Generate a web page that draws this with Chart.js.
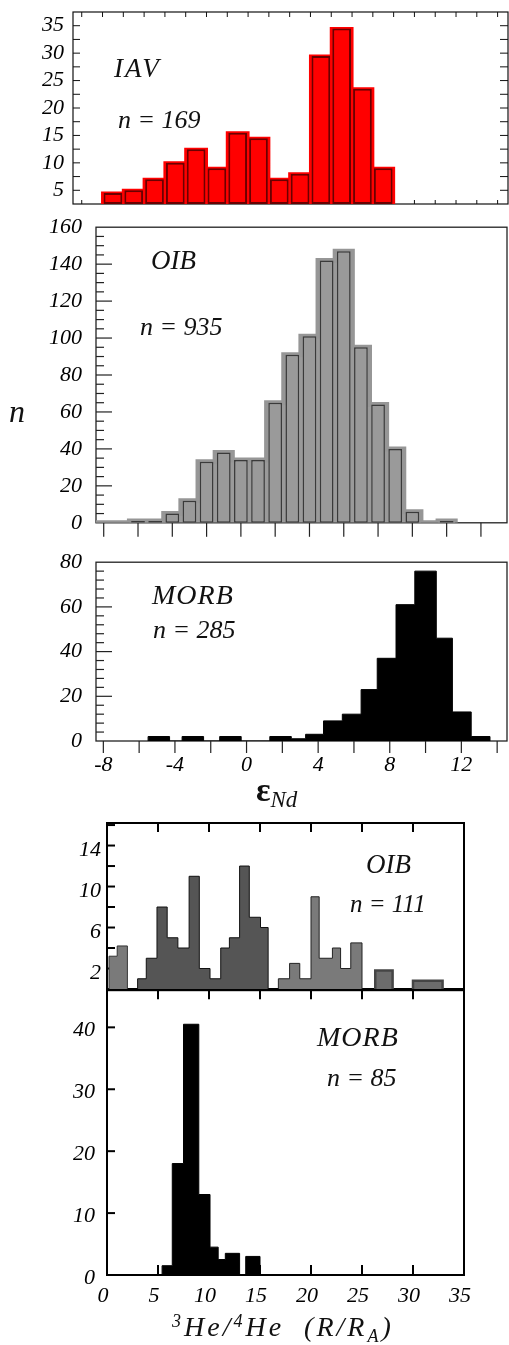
<!DOCTYPE html>
<html>
<head>
<meta charset="utf-8">
<script src="https://cdn.jsdelivr.net/npm/chart.js@4.4.1/dist/chart.umd.min.js"></script>
<style>
  body { margin: 0; background: #fff; }
  #fig { position: relative; width: 509px; height: 1345px; overflow: hidden; background: #fff;
         font-family: "Liberation Serif", serif; font-style: italic; color: #111; }
  #fig canvas { position: absolute; left: 0; }
  .lbl { position: absolute; white-space: nowrap; line-height: 1; }
</style>
</head>
<body>
<div id="fig">
  <canvas id="cvIav"></canvas>
  <canvas id="cvOibNd"></canvas>
  <canvas id="cvMorbNd"></canvas>
  <canvas id="cvOibHe"></canvas>
  <canvas id="cvMorbHe"></canvas>

  <div class="lbl" style="left:114px; top:55px; font-size:27px; letter-spacing:2px">IAV</div>
  <div class="lbl" style="left:118px; top:107px; font-size:26px">n = 169</div>

  <div class="lbl" style="left:151px; top:247px; font-size:27px">OIB</div>
  <div class="lbl" style="left:140px; top:314px; font-size:26px">n = 935</div>
  <div class="lbl" style="left:9px; top:395px; font-size:32px">n</div>

  <div class="lbl" style="left:152px; top:581px; font-size:28px; letter-spacing:1px">MORB</div>
  <div class="lbl" style="left:153px; top:617px; font-size:26px">n = 285</div>

  <div class="lbl" style="left:256px; top:773px; font-size:34px; font-style:normal; font-weight:bold">ε<span style="position:relative; top:6px; font-size:23px; font-style:italic; font-weight:normal">Nd</span></div>

  <div class="lbl" style="left:366px; top:851px; font-size:27px">OIB</div>
  <div class="lbl" style="left:350px; top:891px; font-size:25px">n = 111</div>

  <div class="lbl" style="left:317px; top:1023px; font-size:28px; letter-spacing:1px">MORB</div>
  <div class="lbl" style="left:327px; top:1065px; font-size:26px">n = 85</div>

  <div class="lbl" style="left:172px; top:1313px; font-size:28px; letter-spacing:3px"><span style="position:relative; top:-9px; font-size:18px">3</span>He/<span style="position:relative; top:-9px; font-size:18px">4</span>He&nbsp;&nbsp;(R/R<span style="position:relative; top:6px; font-size:18px">A</span>)</div>
</div>

<script>
// εNd, island arc volcanics (panel uses its own bin index axis)
const iavBins   = [1.5, 2.5, 3.5, 4.5, 5.5, 6.5, 7.5, 8.5, 9.5, 10.5, 11.5, 12.5, 13.5, 14.5];
const iavCounts = [4.5, 5, 7, 10, 12.5, 9, 15.5, 14.5, 7, 8, 29.5, 34.5, 23.5, 9];

// εNd, ocean island basalts (1-unit bins, centred)
const oibNdBins   = [-8, -7, -6, -5, -4, -3, -2, -1, 0, 1, 2, 3, 4, 5, 6, 7, 8, 9, 10, 11, 12];
const oibNdCounts = [0, 0, 1, 1, 5, 12, 33, 38, 34, 34, 65, 91, 101, 142, 147, 95, 64, 40, 6, 0, 1];

// εNd, MORB (bin edges as drawn)
const morbNdEdges  = [-5.5, -4.3, -3.6, -2.4, -1.5, -0.3, 1.3, 2.5, 3.3, 4.3, 5.35, 6.4, 7.3, 8.35, 9.4, 10.6, 11.5, 12.55, 13.6];
const morbNdCounts = [2, 0, 2, 0, 2, 0, 2, 1, 3, 9, 12, 23, 37, 61, 76, 46, 13, 2];

// 3He/4He, OIB groups
const heOibEdgesA  = [0.2, 1, 2];
const heOibCountsA = [3.2, 4.2];
const heOibEdgesB  = [3, 3.85, 4.9, 5.9, 6.95, 8.05, 9.05, 10.1, 11.15, 12, 13, 13.95, 15.05, 15.8];
const heOibCountsB = [1, 3, 8, 5, 4, 11, 2, 1, 4, 5, 12, 7, 6];
const heOibEdgesC  = [16.8, 17.9, 18.9, 20, 20.8, 22.1, 22.9, 23.9, 25];
const heOibCountsC = [1, 2.5, 1, 9, 3, 4, 2, 4.5];
const heOibEdgesD  = [26.3, 28];
const heOibCountsD = [1.8];
const heOibEdgesE  = [30, 32.9];
const heOibCountsE = [0.8];

// 3He/4He, MORB
const heMorbEdges  = [5.4, 6.4, 7.5, 9.0, 10.1, 10.9, 11.6, 13.0, 13.6, 15.0];
const heMorbCounts = [1.5, 18, 40.5, 13, 4.5, 2.5, 3.5, 0, 3];

const W = 540;
const tickFont = { family: "'Liberation Serif', serif", size: 22, style: 'italic' };

Chart.defaults.font.family = tickFont.family;
Chart.defaults.font.size = tickFont.size;
Chart.defaults.font.style = tickFont.style;
Chart.defaults.color = '#000';
Chart.defaults.animation = false;
Chart.defaults.events = [];
Chart.defaults.plugins.legend.display = false;
Chart.defaults.plugins.tooltip.enabled = false;

// histogram outline as a stepped path: (left edge, count) ... then back to 0
function steps(edges, counts) {
  const pts = [{ x: edges[0], y: 0 }];
  counts.forEach((c, i) => pts.push({ x: edges[i], y: c }));
  pts.push({ x: edges[edges.length - 1], y: 0 });
  return pts;
}
function binEdges(bins) {
  return bins.map(b => b - 0.5).concat(bins[bins.length - 1] + 0.5);
}
function bars(bins, counts) {
  return bins.map((x, i) => ({ x, y: counts[i] || null }));
}
function stepSet(pts, fill, line, width) {
  // 'before' keeps each count flat until the next edge
  return { type: 'line', data: pts, stepped: 'before', fill: 'origin', backgroundColor: fill,
           borderColor: line, borderWidth: width, pointRadius: 0, order: 2 };
}

// box frame + tick marks (positive len = into the plot)
const frame = {
  id: 'frame',
  beforeDatasetsDraw(chart, args, o) {
    const { ctx, chartArea: a, scales } = chart;
    ctx.save();
    ctx.strokeStyle = o.color;
    ctx.lineWidth = o.width;
    ctx.strokeRect(a.left, a.top, a.right - a.left, a.bottom - a.top);
    ctx.lineWidth = o.tickWidth;
    (o.marks || []).forEach(m => {
      const s = scales[m.axis];
      s.ticks.forEach(t => {
        const p = s.getPixelForValue(t.value);
        const len = m.major && m.major(t.value) ? m.majorLen : m.len;
        const vert = m.side === 'left' || m.side === 'right';
        if (vert && (p < a.top + 1.5 || p > a.bottom - 1.5)) return;
        if (!vert && (p < a.left + 1.5 || p > a.right - 1.5)) return;
        ctx.beginPath();
        if (m.side === 'left')   { ctx.moveTo(a.left, p);   ctx.lineTo(a.left + len, p); }
        if (m.side === 'right')  { ctx.moveTo(a.right, p);  ctx.lineTo(a.right - len, p); }
        if (m.side === 'top')    { ctx.moveTo(p, a.top);    ctx.lineTo(p, a.top + len); }
        if (m.side === 'bottom') { ctx.moveTo(p, a.bottom); ctx.lineTo(p, a.bottom - len); }
        ctx.stroke();
      });
    });
    ctx.restore();
  }
};

function axis(min, max, step, extra) {
  return Object.assign({
    type: 'linear', min, max, offset: false,
    grid: { display: false, drawTicks: false, offset: false },
    border: { display: false }
  }, extra, {
    ticks: Object.assign({ stepSize: step, includeBounds: false, autoSkip: false, maxTicksLimit: 200,
                           maxRotation: 0, font: tickFont, color: '#000' },
                         extra && extra.ticks)
  });
}

// canvas spans the full width; the y scale takes everything left of the box,
// the x scale everything below it, so the plot box lands at `area`
function panel(id, top, height, area, cfg) {
  const cv = document.getElementById(id);
  cv.width = W;
  cv.height = height;
  cv.style.top = top + 'px';
  const below = top + height - area.b;
  cfg.options.responsive = false;
  cfg.options.layout = { padding: { left: 0, top: area.t - top, right: W - area.r, bottom: 0 } };
  cfg.options.scales.x.afterFit = s => { s.height = below; };
  cfg.options.scales.y.afterFit = s => { s.width = area.l; };
  cfg.plugins = [frame];
  return new Chart(cv, cfg);
}

// IAV
panel('cvIav', -20, 250, { l: 73, t: 12, r: 508, b: 204 }, {
  type: 'bar',
  data: { datasets: [
    { type: 'bar', data: bars(iavBins, iavCounts), backgroundColor: '#ff0000', borderColor: '#6a0000',
      borderWidth: 2, borderSkipped: false, barPercentage: 0.9, categoryPercentage: 1, base: 2.5, order: 1 },
    stepSet(steps(binEdges(iavBins), iavCounts), '#ff0000', '#ff0000', 3)
  ] },
  options: {
    scales: {
      x: axis(-0.42, 20.5, 1, { ticks: { display: false } }),
      y: axis(2.5, 37.5, 2.5, { ticks: { padding: 9, callback: v => v % 5 === 0 ? v : '' } })
    },
    plugins: { frame: { color: '#111', width: 1.2, tickWidth: 1, marks: [
      { axis: 'y', side: 'left', len: 7 },
      { axis: 'y', side: 'right', len: 8 },
      { axis: 'x', side: 'top', len: 5 },
      { axis: 'x', side: 'bottom', len: 4 }
    ] } }
  }
});

// OIB εNd
panel('cvOibNd', 200, 350, { l: 96, t: 222, r: 507, b: 523 }, {
  type: 'bar',
  data: { datasets: [
    { type: 'bar', data: bars(oibNdBins, oibNdCounts), backgroundColor: '#9a9a9a', borderColor: '#3a3a3a',
      borderWidth: 1.5, borderSkipped: false, barPercentage: 0.8, categoryPercentage: 1, order: 1 },
    stepSet(steps(binEdges(oibNdBins), oibNdCounts), '#9a9a9a', '#969696', 5)
  ] },
  options: {
    scales: {
      x: axis(-8.45, 15.52, 2, { ticks: { display: false } }),
      y: axis(0, 160, 5, { ticks: { padding: 14, callback: v => v % 20 === 0 ? v : '' } })
    },
    plugins: { frame: { color: '#222', width: 1.3, tickWidth: 1.2, marks: [
      { axis: 'y', side: 'left', len: 8, majorLen: 16, major: v => v % 20 === 0 },
      { axis: 'x', side: 'bottom', len: -14 }
    ] } }
  }
});

// MORB εNd
panel('cvMorbNd', 535, 260, { l: 96, t: 557, r: 507, b: 741 }, {
  type: 'line',
  data: { datasets: [ stepSet(steps(morbNdEdges, morbNdCounts), '#000', '#000', 1) ] },
  options: {
    scales: {
      x: axis(-8.41, 14.55, 2, { ticks: { padding: 11, callback: v => v % 4 === 0 ? v : '' } }),
      y: axis(0, 80, 4, { ticks: { padding: 14, callback: v => v % 20 === 0 ? v : '' } })
    },
    plugins: { frame: { color: '#222', width: 1.3, tickWidth: 1.2, marks: [
      { axis: 'y', side: 'left', len: 8, majorLen: 16, major: v => v % 20 === 0 },
      { axis: 'x', side: 'bottom', len: -12 }
    ] } }
  }
});

// OIB 3He/4He
panel('cvOibHe', 800, 210, { l: 107, t: 823, r: 464, b: 989 }, {
  type: 'line',
  data: { datasets: [
    stepSet(steps(heOibEdgesA, heOibCountsA), '#7a7a7a', '#333', 1),
    stepSet(steps(heOibEdgesB, heOibCountsB), '#555555', '#111', 1),
    stepSet(steps(heOibEdgesC, heOibCountsC), '#7a7a7a', '#222', 1),
    stepSet(steps(heOibEdgesD, heOibCountsD), '#6c6c6c', '#454545', 2.5),
    stepSet(steps(heOibEdgesE, heOibCountsE), '#6c6c6c', '#454545', 2.5)
  ] },
  options: {
    scales: {
      x: axis(0, 35, 5, { ticks: { display: false } }),
      y: axis(0, 16.2, 2, { ticks: { padding: 6, labelOffset: 5, callback: v => (v - 2) % 4 === 0 ? v : '' } })
    },
    plugins: { frame: { color: '#000', width: 2, tickWidth: 2, marks: [
      { axis: 'y', side: 'left', len: 8 },
      { axis: 'x', side: 'top', len: 9 }
    ] } }
  }
});

// MORB 3He/4He
panel('cvMorbHe', 965, 360, { l: 107, t: 989, r: 464, b: 1275 }, {
  type: 'line',
  data: { datasets: [ stepSet(steps(heMorbEdges, heMorbCounts), '#000', '#000', 1) ] },
  options: {
    scales: {
      x: axis(0, 35, 5, { ticks: { padding: 8, labelOffset: -4 } }),
      y: axis(0, 46, 10, { ticks: { padding: 12, labelOffset: 3, callback: v => v % 10 === 0 ? v : '' } })
    },
    plugins: { frame: { color: '#000', width: 2, tickWidth: 2, marks: [
      { axis: 'y', side: 'left', len: 8 },
      { axis: 'x', side: 'top', len: 9 },
      { axis: 'x', side: 'bottom', len: 10 }
    ] } }
  }
});
</script>
</body>
</html>
